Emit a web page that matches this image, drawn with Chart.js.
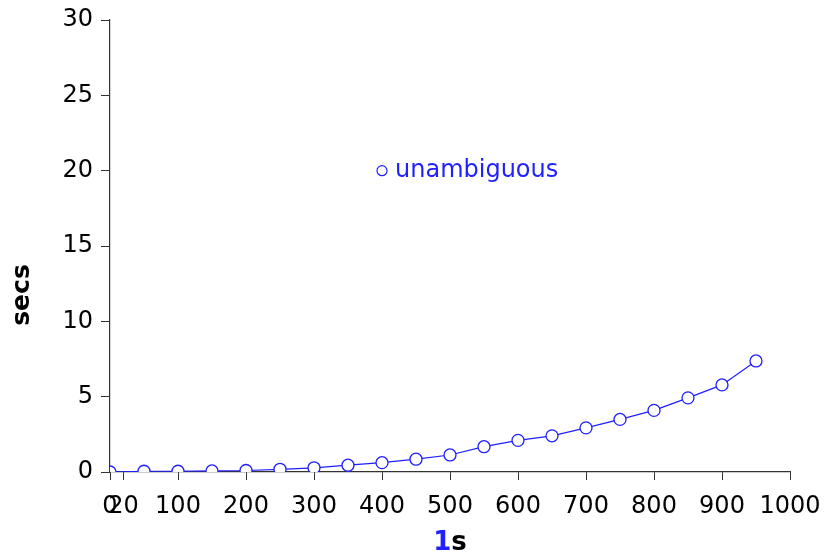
<!DOCTYPE html>
<html>
<head>
<meta charset="utf-8">
<script src="https://cdn.jsdelivr.net/npm/chart.js@4"></script>
<style>
  html, body { margin: 0; padding: 0; background: #fff; }
  #wrap { width: 826px; height: 558px; }
</style>
</head>
<body>
<div id="wrap"><canvas id="lineCanvas" width="826" height="558"></canvas></div>
<script>
const sizes = [0, 50, 100, 150, 200, 250, 300, 350, 400, 450, 500, 550, 600, 650, 700, 750, 800, 850, 900, 950];
const secs = [0, 0.05, 0.05, 0.07, 0.1, 0.18, 0.28, 0.45, 0.62, 0.85, 1.13, 1.68, 2.1, 2.4, 2.93, 3.49, 4.09, 4.92, 5.78, 7.37];
const xTicks = [0, 20, 100, 200, 300, 400, 500, 600, 700, 800, 900, 1000];
const yTicks = [0, 5, 10, 15, 20, 25, 30];
const seriesName = "unambiguous";
const keyAt = [400, 20];

const blue = "#1f1fff";
const axisColor = "#333";
const font = "DejaVu Sans";

const overlay = {
    id: "overlay",
    afterDraw(chart) {
        const ctx = chart.ctx;
        const x = chart.scales.x, y = chart.scales.y;
        ctx.save();
        // key
        const kx = x.getPixelForValue(keyAt[0]), ky = y.getPixelForValue(keyAt[1]);
        ctx.beginPath();
        ctx.arc(kx, ky, 5, 0, Math.PI * 2);
        ctx.fillStyle = "#fff";
        ctx.fill();
        ctx.strokeStyle = blue;
        ctx.lineWidth = 1.2;
        ctx.stroke();
        ctx.fillStyle = blue;
        ctx.font = "24px '" + font + "'";
        ctx.textBaseline = "middle";
        ctx.textAlign = "left";
        ctx.fillText(seriesName, kx + 13, ky);
        // axis titles
        ctx.font = "bold 26px '" + font + "'";
        const w1 = ctx.measureText("1").width, w2 = ctx.measureText("s").width;
        const cx = (chart.chartArea.left + chart.chartArea.right) / 2;
        ctx.fillStyle = blue;
        ctx.fillText("1", cx - (w1 + w2) / 2, 543);
        ctx.fillStyle = "#000";
        ctx.fillText("s", cx - (w1 + w2) / 2 + w1, 543);
        ctx.translate(22, 295);
        ctx.rotate(-Math.PI / 2);
        ctx.textAlign = "center";
        ctx.font = "bold 25px '" + font + "'";
        ctx.fillText("secs", 0, 0);
        ctx.restore();
    }
};

const lineCanvas = document.getElementById('lineCanvas');

const lineChart = new Chart(lineCanvas, {
    type: "line",
    data: {
        labels: sizes,
        datasets: [{
            label: seriesName,
            data: sizes.map((s, i) => ({ x: s, y: secs[i] })),
            borderColor: blue,
            borderWidth: 1.2,
            backgroundColor: "#fff",
            pointRadius: 6,
            pointBorderWidth: 1.3,
            pointBorderColor: blue,
            pointBackgroundColor: "#fff",
            tension: 0,
        }]
    },
    options: {
        responsive: false,
        animation: false,
        layout: { padding: { top: 20, right: 36, left: 0, bottom: 0 } },
        plugins: { legend: { display: false }, tooltip: { enabled: false } },
        scales: {
            x: {
                type: "linear",
                min: 0,
                max: 1000,
                afterBuildTicks: (s) => { s.ticks = xTicks.map(v => ({ value: v })); },
                afterFit: (s) => { s.height = 86; s.paddingRight = 0; s.paddingLeft = 0; },
                ticks: { autoSkip: false, color: "#000", font: { family: font, size: 24 }, padding: 12, maxRotation: 0,
                         callback: (v) => String(v) },
                grid: { drawOnChartArea: false, tickLength: 8, color: axisColor },
                border: { color: axisColor, width: 1.2 }
            },
            y: {
                min: 0,
                max: 30,
                afterBuildTicks: (s) => { s.ticks = yTicks.map(v => ({ value: v })); },
                afterFit: (s) => { s.width = 110; s.paddingTop = 0; s.paddingBottom = 0; },
                ticks: { color: "#000", font: { family: font, size: 24 }, padding: 8 },
                grid: { drawOnChartArea: false, tickLength: 9, color: axisColor },
                border: { color: axisColor, width: 1.2 }
            }
        }
    },
    plugins: [overlay]
});
</script>
</body>
</html>
